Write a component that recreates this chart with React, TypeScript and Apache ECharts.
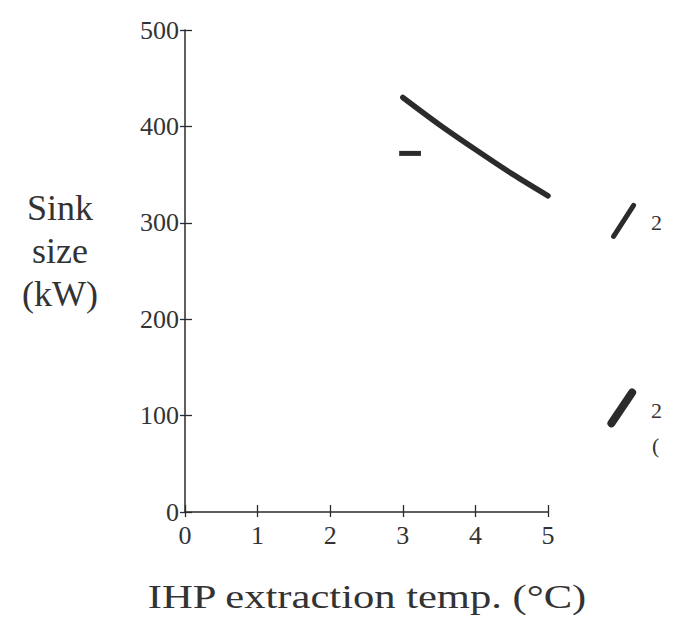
import React, { useEffect, useRef } from "react";
import * as echarts from "echarts";

const xTicks = [0, 1, 2, 3, 4, 5];
const yTicks = [0, 100, 200, 300, 400, 500];
const mainX = [3, 3.5, 4, 4.5, 5];
const mainY = [430, 402, 376, 351, 328];
const dashX = [2.95, 3.25];
const dashY = [372, 372];
const upperMarkX = [6.0, 6.28];
const upperMarkY = [286, 318];
const lowerMarkX = [5.97, 6.26];
const lowerMarkY = [92, 124];
const sideLabels = ["2", "2", "("];
const xTitle = "IHP extraction temp. (°C)";
const yTitle = "Sink\nsize\n(kW)";

const FONT = "Liberation Serif";
const INK = "#2b2b2b";
const TXT = "#333";

export default function App() {
  const ref = useRef<HTMLDivElement>(null);
  useEffect(() => {
    if (!ref.current) return;
    const chart = echarts.init(ref.current, null, { renderer: "svg" });
    const pair = (xs: number[], ys: number[]) => xs.map((x, i) => [x, ys[i]]);
    const lineSeries = (data: number[][], w: number, axis: number, smooth: number | boolean) => ({
      type: "line",
      data,
      showSymbol: false,
      clip: false,
      smooth,
      lineStyle: { color: INK, width: w, cap: "round" },
      xAxisIndex: axis,
      yAxisIndex: axis,
    });
    const gridBox = { left: 185, top: 30, width: 363, height: 482 };
    const hiddenAxis = (grid: number, min: number, max: number) => ({
      type: "value",
      gridIndex: grid,
      min,
      max,
      show: false,
    });
    chart.setOption({
      animation: false,
      backgroundColor: "#ffffff",
      grid: [gridBox, gridBox, { left: 185, top: 30, width: (363 * 7) / 5, height: 482 }],
      xAxis: [
        {
          type: "value",
          gridIndex: 0,
          min: xTicks[0],
          max: xTicks[xTicks.length - 1],
          interval: 1,
          splitLine: { show: false },
          axisLine: { lineStyle: { color: INK, width: 1.5 } },
          axisTick: { length: 5, lineStyle: { color: INK, width: 1.3 } },
          axisLabel: { color: TXT, fontFamily: FONT, fontSize: 26, margin: 10 },
        },
        {
          type: "value",
          gridIndex: 1,
          min: 0,
          max: 5,
          interval: 1,
          splitLine: { show: false },
          axisLine: { show: false },
          axisTick: { inside: true, length: 7, lineStyle: { color: INK, width: 1.3 } },
          axisLabel: { show: false },
        },
        hiddenAxis(2, 0, 7),
      ],
      yAxis: [
        {
          type: "value",
          gridIndex: 0,
          min: yTicks[0],
          max: yTicks[yTicks.length - 1],
          interval: 100,
          splitLine: { show: false },
          axisLine: { show: true, lineStyle: { color: INK, width: 1.5 } },
          axisTick: { show: true, length: 5, lineStyle: { color: INK, width: 1.3 } },
          axisLabel: { color: TXT, fontFamily: FONT, fontSize: 26, margin: 6 },
        },
        {
          type: "value",
          gridIndex: 1,
          min: 0,
          max: 500,
          interval: 100,
          splitLine: { show: false },
          axisLine: { show: false },
          axisTick: { show: true, inside: true, length: 7, lineStyle: { color: INK, width: 1.3 } },
          axisLabel: { show: false },
        },
        hiddenAxis(2, 0, 500),
      ],
      graphic: [
        {
          type: "text",
          x: 60,
          y: 186,
          style: {
            text: yTitle,
            align: "center",
            verticalAlign: "top",
            fontFamily: FONT,
            fontSize: 36,
            lineHeight: 43,
            fill: TXT,
          },
        },
        {
          type: "text",
          x: 367,
          y: 597,
          scaleX: 1.29,
          style: {
            text: xTitle,
            align: "center",
            verticalAlign: "middle",
            fontFamily: FONT,
            fontSize: 33,
            fill: TXT,
          },
        },
        {
          type: "text",
          x: 651,
          y: 222,
          style: { text: sideLabels[0], verticalAlign: "middle", fontFamily: FONT, fontSize: 22, fill: TXT },
        },
        {
          type: "text",
          x: 651,
          y: 410,
          style: { text: sideLabels[1], verticalAlign: "middle", fontFamily: FONT, fontSize: 22, fill: TXT },
        },
        {
          type: "text",
          x: 652,
          y: 445,
          style: { text: sideLabels[2], verticalAlign: "middle", fontFamily: FONT, fontSize: 22, fill: TXT },
        },
      ],
      series: [
        lineSeries(pair(mainX, mainY), 5.5, 0, 0.3),
        { ...lineSeries(pair(dashX, dashY), 5, 0, false), lineStyle: { color: INK, width: 5, cap: "butt" } },
        lineSeries(pair(upperMarkX, upperMarkY), 5, 2, false),
        lineSeries(pair(lowerMarkX, lowerMarkY), 8, 2, false),
      ],
    });
    return () => chart.dispose();
  }, []);
  return <div ref={ref} style={{ width: 685, height: 618, position: "absolute", left: 0, top: 0 }} />;
}
